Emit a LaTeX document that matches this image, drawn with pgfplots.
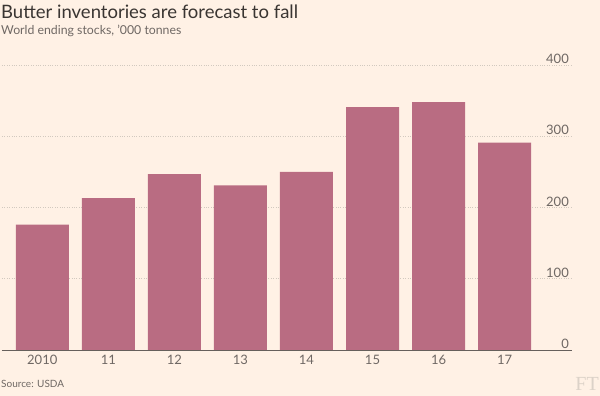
\documentclass[border=0pt]{standalone}
\usepackage{fontspec}
\setmainfont{Lato}
\usepackage{pgfplots}
\pgfplotsset{compat=1.18}
\definecolor{bg}{HTML}{FFF1E5}
\definecolor{barc}{RGB}{185,108,130}
\definecolor{txt}{HTML}{3A3532}
\definecolor{subc}{HTML}{6F6864}
\definecolor{axc}{HTML}{66605C}
\definecolor{gridc}{HTML}{D2C9BF}
\definecolor{ftc}{HTML}{DCD2C8}
\begin{document}
\begin{tikzpicture}[x=1pt,y=1pt]
\fill[bg] (0,0) rectangle (600,396);
\path[use as bounding box] (0,0) rectangle (600,396);
\node[anchor=base west, inner sep=0, text=txt, font=\fontsize{18.5}{20}\selectfont] at (1,377.5) {Butter inventories are forecast to fall};
\node[anchor=base west, inner sep=0, text=subc, font=\fontsize{12.3}{13}\selectfont] at (1,361) {World ending stocks, '000 tonnes};
\node[anchor=base west, inner sep=0, text=subc, font=\fontsize{10}{12}\selectfont] at (1,8) {Source: USDA};
\node[anchor=base east, inner sep=0, text=ftc, font=\fontspec{Liberation Serif}\fontsize{20}{22}\selectfont] at (599,5) {FT};
\begin{axis}[
  at={(2pt,46pt)}, anchor=south west,
  scale only axis, width=570pt, height=285pt,
  xmin=-0.61, xmax=8.02, ymin=0, ymax=400,
  axis x line=bottom, axis y line=right,
  x axis line style={draw=axc, line width=0.8pt, -},
  y axis line style={draw=none},
  xtick={0,...,7},
  xticklabels={2010,11,12,13,14,15,16,17},
  ytick={0,100,200,300,400},
  ymajorgrids, grid style={gridc, dotted, line width=0.6pt},
  major tick length=0pt,
  yticklabel style={anchor=south east, xshift=-2pt, yshift=0pt, inner sep=1pt},
  ticklabel style={text=subc, font=\fontsize{13}{15}\selectfont},
  xticklabel style={yshift=-2pt},
  /pgf/number format/assume math mode=true,
  clip=false,
]
\addplot[ybar, bar width=53pt, fill=barc, draw=none] coordinates {
(0,176) (1,213) (2,247) (3,231) (4,250) (5,341) (6,348) (7,291)};
\end{axis}
\end{tikzpicture}
\end{document}
